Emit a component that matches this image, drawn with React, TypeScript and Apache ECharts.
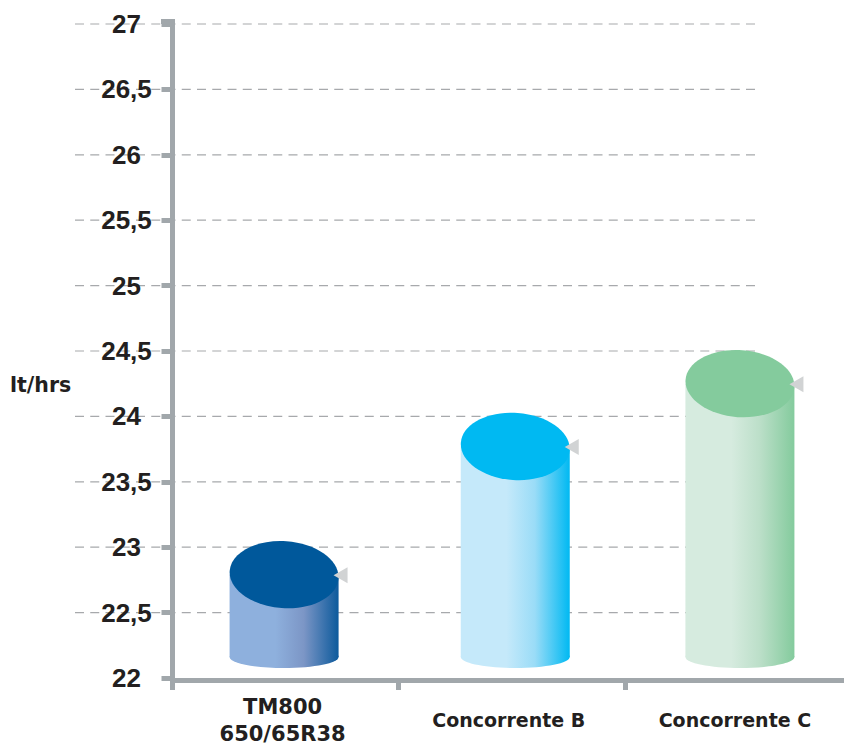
import React, { useEffect, useRef } from "react";
import * as echarts from "echarts";

const categories = ["TM800\n650/65R38", "Concorrente B", "Concorrente C"];
const values = [22.79, 23.77, 24.25];
const gridValues = [22.5, 23, 23.5, 24, 24.5, 25, 25.5, 26, 26.5, 27];
const baseValue = 22.16;
const capColors = ["#00589b", "#00b9f2", "#84cb9d"];
const bodyLight = ["#8eb0dd", "#c5e9fa", "#d6ebdf"];
const bodyMid = ["#7c96c6", "#9adcf7", "#bcdfc9"];
const bodyDark = ["#0c5a9c", "#00b9f2", "#84cb9d"];
const centerShift = [-1.5, 3.5, 2];

const AXIS = "#a1a7ab";
const INK = "#231f20";
const RX = 54.5;
const CAP_RY = 33.5;
const BASE_RY = 11;

export default function App() {
  const ref = useRef<HTMLDivElement>(null);
  useEffect(() => {
    const chart = echarts.init(ref.current!, null, { renderer: "svg" });
    chart.setOption({
      animation: false,
      backgroundColor: "#ffffff",
      grid: { left: 172.5, right: -7, top: 24, bottom: 66, containLabel: false, outerBoundsMode: "none" },
      xAxis: {
        type: "category",
        data: categories,
        offset: 2,
        z: 3,
        axisLine: { show: true, lineStyle: { color: AXIS, width: 5 } },
        axisTick: { show: true, length: 10, lineStyle: { color: AXIS, width: 5 } },
        axisLabel: {
          interval: 0,
          margin: 40,
          verticalAlign: "middle",
          color: INK,
          fontFamily: "DejaVu Sans",
          fontWeight: "bold",
          formatter: (v: string) => {
            if (!v.includes("\n")) return `{b|${v}}`;
            const [first, second] = v.split("\n");
            return `{a1|${first}}\n{a|${second}}`;
          },
          rich: {
            a1: { fontFamily: "DejaVu Sans", fontWeight: "bold", fontSize: 21, lineHeight: 18, padding: [0, 0, 9, 0], color: INK },
            a: { fontFamily: "DejaVu Sans", fontWeight: "bold", fontSize: 21, lineHeight: 18, padding: [9, 0, 0, 0], color: INK },
            b: { fontFamily: "DejaVu Sans", fontWeight: "bold", fontSize: 19, lineHeight: 29, color: INK },
          },
          padding: [0, 6, 0, 0],
        },
      },
      yAxis: {
        type: "value",
        min: 22,
        max: 27,
        interval: 0.5,
        z: 3,
        axisLine: { show: true, lineStyle: { color: AXIS, width: 5, cap: "square" } },
        axisTick: { show: true, length: 11, lineStyle: { color: AXIS, width: 5 } },
        splitLine: { show: false },
        axisLabel: {
          margin: 46,
          align: "center",
          verticalAlign: "middle",
          color: INK,
          fontFamily: "Liberation Sans",
          fontWeight: "bold",
          fontSize: 26,
          formatter: (v: number) => String(v).replace(".", ","),
        },
      },
      series: [
        {
          type: "custom",
          z: 1,
          clip: false,
          data: gridValues.map((v) => [0, v]),
          encode: { x: 0, y: 1 },
          renderItem: (_p: any, api: any) => {
            const y = api.coord([0, api.value(1)])[1];
            return {
              type: "line",
              shape: { x1: 75, y1: y, x2: 755, y2: y },
              style: { stroke: "#a7a9ac", lineWidth: 1.2, lineDash: [9, 6.25], fill: "none" },
            };
          },
        },
        {
          type: "custom",
          z: 2,
          clip: false,
          data: values.map((v, i) => [i, v]),
          encode: { x: 0, y: 1 },
          renderItem: (p: any, api: any) => {
            const i = p.dataIndex;
            const [px, top] = api.coord([api.value(0), api.value(1)]);
            const cx = px + centerShift[i];
            const base = api.coord([api.value(0), baseValue])[1];
            const fill = new echarts.graphic.LinearGradient(0, 0, 1, 0, [
              { offset: 0, color: bodyLight[i] },
              { offset: 0.42, color: bodyLight[i] },
              { offset: 0.68, color: bodyMid[i] },
              { offset: 1, color: bodyDark[i] },
            ]);
            return {
              type: "group",
              children: [
                { type: "rect", shape: { x: cx - RX, y: top, width: RX * 2, height: base - top }, style: { fill } },
                { type: "ellipse", shape: { cx, cy: base, rx: RX, ry: BASE_RY }, style: { fill } },
                {
                  type: "ellipse",
                  x: cx,
                  y: top,
                  rotation: -0.07,
                  shape: { cx: 0, cy: 0, rx: RX, ry: CAP_RY },
                  style: { fill: capColors[i] },
                },
                {
                  type: "polygon",
                  shape: { points: [[cx + 49.5, top + 0.5], [cx + 63.5, top - 7.5], [cx + 63.5, top + 8.5]] },
                  style: { fill: "#d1d3d4" },
                },
              ],
            };
          },
        },
      ],
      graphic: [
        { type: "rect", z: 5, shape: { x: 161, y: 19, width: 14, height: 5 }, style: { fill: AXIS } },
        {
          type: "text",
          x: 10,
          y: 385,
          style: {
            text: "lt/hrs",
            fill: INK,
            fontFamily: "DejaVu Sans",
            fontWeight: "bold",
            fontSize: 20.5,
            verticalAlign: "middle",
          },
        },
      ],
    });
    return () => chart.dispose();
  }, []);
  return <div ref={ref} style={{ position: "absolute", left: 0, top: 0, width: 844, height: 744 }} />;
}
